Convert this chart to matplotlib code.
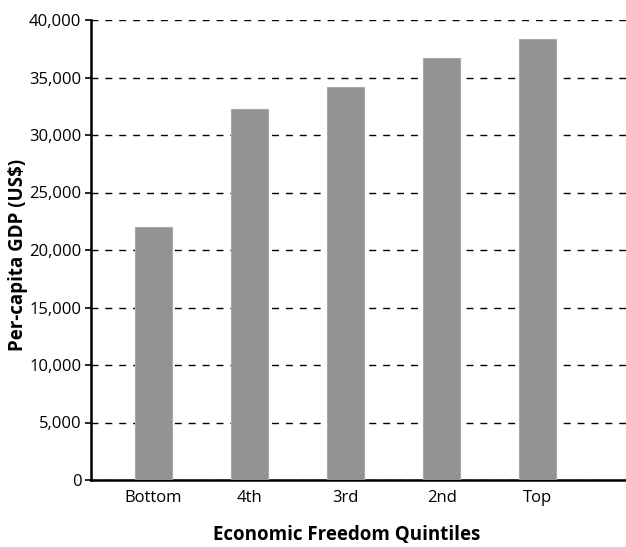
import numpy as np
import matplotlib.pyplot as plt

# Per-capita GDP by economic freedom quintile
quintiles = ["Bottom", "4th", "3rd", "2nd", "Top"]
gdp = [22000, 32300, 34200, 36700, 38350]

plt.rcParams['font.family'] = ['Open Sans', 'DejaVu Sans']

fig = plt.figure(figsize=(6.26, 5.47), dpi=100)
ax = fig.add_axes([91 / 626, 1 - 480 / 547, 535 / 626, 460 / 547])

x = np.arange(len(quintiles))
ax.bar(x, gdp, width=0.39, color="#939393", edgecolor="#a8a8a8", linewidth=0.8, zorder=3)

ax.set_ylim(0, 40000)
ax.set_xlim(-0.65, 4.92)
ax.set_yticks(np.arange(0, 40001, 5000))
ax.set_yticklabels([f"{v:,}" for v in range(0, 40001, 5000)], fontsize=12)
ax.set_xticks(x)
ax.set_xticklabels(quintiles, fontsize=12)
ax.tick_params(axis="x", length=0, pad=7)
ax.tick_params(axis="y", length=4, width=1.2, pad=3)

ax.yaxis.grid(True, linestyle=(0, (5, 5)), color="black", linewidth=1, zorder=0)
ax.set_axisbelow(True)

ax.spines["top"].set_visible(False)
ax.spines["right"].set_visible(False)
ax.spines["left"].set_linewidth(1.8)
ax.spines["bottom"].set_linewidth(1.8)

ax.set_ylabel("Per-capita GDP (US$)", fontsize=13.5, fontweight="bold", va="center")
ax.yaxis.set_label_coords(-0.137, 0.49)
ax.set_xlabel("Economic Freedom Quintiles", fontsize=13.5, fontweight="bold", va="center")
ax.xaxis.set_label_coords(0.477, -0.12)

fig.savefig("out.png", dpi=100)
